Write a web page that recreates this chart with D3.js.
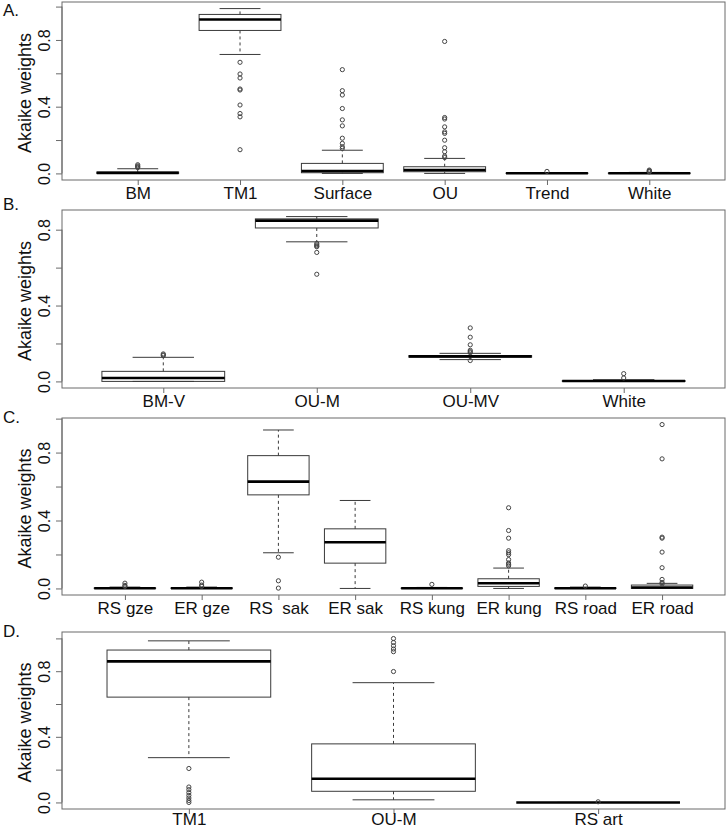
<!DOCTYPE html>
<html>
<head>
<meta charset="utf-8">
<script src="https://cdn.jsdelivr.net/npm/d3@7/dist/d3.min.js"></script>
<style>
  html, body { margin: 0; padding: 0; background: #fff; }
  svg { display: block; }
  text { font-family: "Liberation Sans", Arial, sans-serif; fill: #111; }
</style>
</head>
<body>
<svg id="chart" width="728" height="830"></svg>
<script>
// ---------- Panel A ----------
const catsA = ["BM", "TM1", "Surface", "OU", "Trend", "White"];
const loA  = [0, 0.713, 0, 0, 0, 0];
const q1A  = [0, 0.857, 0.004, 0.01, 0, 0];
const medA = [0.003, 0.923, 0.014, 0.02, 0.001, 0.001];
const q3A  = [0.008, 0.953, 0.06, 0.04, 0.002, 0.002];
const hiA  = [0.028, 0.988, 0.139, 0.09, 0.005, 0.006];
const outA = [
  [0.035, 0.04, 0.045, 0.052],
  [0.666, 0.596, 0.572, 0.506, 0.50, 0.41, 0.359, 0.339, 0.142],
  [0.622, 0.496, 0.47, 0.389, 0.321, 0.285, 0.211, 0.18, 0.16, 0.15],
  [0.791, 0.335, 0.326, 0.279, 0.249, 0.24, 0.199, 0.154, 0.13, 0.104, 0.095],
  [0.012],
  [0.009, 0.012, 0.016, 0.02]
];

// ---------- Panel B ----------
const catsB = ["BM-V", "OU-M", "OU-MV", "White"];
const loB  = [0, 0.736, 0.115, 0];
const q1B  = [0, 0.809, 0.128, 0];
const medB = [0.018, 0.848, 0.132, 0.002];
const q3B  = [0.053, 0.857, 0.136, 0.004];
const hiB  = [0.127, 0.869, 0.148, 0.009];
const outB = [
  [0.136, 0.14, 0.145],
  [0.727, 0.72, 0.714, 0.71, 0.68, 0.565],
  [0.282, 0.233, 0.193, 0.164, 0.157, 0.151, 0.11],
  [0.018, 0.041]
];

// ---------- Panel C ----------
const catsC = ["RS gze", "ER gze", "RS\u00a0 sak", "ER sak", "RS kung", "ER kung", "RS road", "ER road"];
const loC  = [0, 0, 0.21, 0, 0, 0, 0, 0];
const q1C  = [0, 0, 0.551, 0.149, 0, 0.012, 0, 0];
const medC = [0.001, 0.001, 0.629, 0.272, 0.001, 0.031, 0.001, 0.006];
const q3C  = [0.003, 0.003, 0.782, 0.351, 0.002, 0.057, 0.003, 0.02];
const hiC  = [0.008, 0.008, 0.933, 0.518, 0.006, 0.12, 0.008, 0.03];
const outC = [
  [0.012, 0.018, 0.031],
  [0.012, 0.02, 0.037],
  [0.184, 0.045, 0.002],
  [],
  [0.024],
  [0.475, 0.341, 0.296, 0.222, 0.21, 0.199, 0.17, 0.15, 0.142, 0.133],
  [0.014],
  [0.965, 0.763, 0.302, 0.296, 0.214, 0.122, 0.053, 0.035, 0.027]
];

// ---------- Panel D ----------
const catsD = ["TM1", "OU-M", "RS art"];
const loD  = [0.273, 0.016, 0];
const q1D  = [0.642, 0.068, 0];
const medD = [0.86, 0.144, 0];
const q3D  = [0.929, 0.357, 0];
const hiD  = [0.985, 0.73, 0];
const outD = [
  [0.207, 0.094, 0.078, 0.06, 0.043, 0.027, 0.012, 0.0],
  [0.798, 0.919, 0.935, 0.955, 0.975, 0.999],
  [0.004]
];

const yTicks = [0, 0.2, 0.4, 0.6, 0.8, 1.0];
const panelLabels = ["A.", "B.", "C.", "D."];
const yTitle = "Akaike weights";

const panels = [
  {label: panelLabels[0], cats: catsA, lo: loA, q1: q1A, med: medA, q3: q3A, hi: hiA, out: outA, rect: [62, 2, 725, 180], lab: 16, xl: 19},
  {label: panelLabels[1], cats: catsB, lo: loB, q1: q1B, med: medB, q3: q3B, hi: hiB, out: outB, rect: [62, 210, 725, 388], lab: 210, xl: 19},
  {label: panelLabels[2], cats: catsC, lo: loC, q1: q1C, med: medC, q3: q3C, hi: hiC, out: outC, rect: [62, 418, 725, 595], lab: 423, xl: 19},
  {label: panelLabels[3], cats: catsD, lo: loD, q1: q1D, med: medD, q3: q3D, hi: hiD, out: outD, rect: [62, 632, 725, 809], lab: 637, xl: 16}
];

const svg = d3.select("#chart");
const lineCol = "#3a3a3a";
const frameCol = "#6a6a6a";

panels.forEach(p => {
  const [x0, y0, x1, y1] = p.rect;
  const n = p.cats.length;
  const all = [].concat(p.lo, p.hi, ...p.out);
  const mn = d3.min(all), mx = d3.max(all);
  const ext = (mx - mn) * 0.04;
  const y = d3.scaleLinear().domain([mn - ext, mx + ext]).range([y1, y0]);
  const xe = n * 0.04;
  const x = d3.scaleLinear().domain([0.5 - xe, n + 0.5 + xe]).range([x0, x1]);
  const hw = x(1.4) - x(1);   // half box width (boxwex 0.8)
  const cw = x(1.2) - x(1);   // half staple width

  const g = svg.append("g");

  // panel label
  g.append("text").attr("x", 3).attr("y", p.lab)
    .attr("font-size", 17).text(p.label);

  const idx = d3.range(n);
  const boxes = g.selectAll("g.box").data(idx).join("g").attr("class", "box");

  // whiskers (dashed)
  boxes.append("line")
    .attr("x1", i => x(i + 1)).attr("x2", i => x(i + 1))
    .attr("y1", i => y(p.q3[i])).attr("y2", i => y(p.hi[i]))
    .attr("stroke", lineCol).attr("stroke-width", 1).attr("stroke-dasharray", "3,3");
  boxes.append("line")
    .attr("x1", i => x(i + 1)).attr("x2", i => x(i + 1))
    .attr("y1", i => y(p.q1[i])).attr("y2", i => y(p.lo[i]))
    .attr("stroke", lineCol).attr("stroke-width", 1).attr("stroke-dasharray", "3,3");
  // staples
  boxes.append("line")
    .attr("x1", i => x(i + 1) - cw).attr("x2", i => x(i + 1) + cw)
    .attr("y1", i => y(p.hi[i])).attr("y2", i => y(p.hi[i]))
    .attr("stroke", lineCol).attr("stroke-width", 1);
  boxes.append("line")
    .attr("x1", i => x(i + 1) - cw).attr("x2", i => x(i + 1) + cw)
    .attr("y1", i => y(p.lo[i])).attr("y2", i => y(p.lo[i]))
    .attr("stroke", lineCol).attr("stroke-width", 1);
  // box
  boxes.append("rect")
    .attr("x", i => x(i + 1) - hw).attr("width", 2 * hw)
    .attr("y", i => y(p.q3[i])).attr("height", i => Math.max(0, y(p.q1[i]) - y(p.q3[i])))
    .attr("fill", "none").attr("stroke", lineCol).attr("stroke-width", 1);
  // median
  boxes.append("line")
    .attr("x1", i => x(i + 1) - hw).attr("x2", i => x(i + 1) + hw)
    .attr("y1", i => y(p.med[i])).attr("y2", i => y(p.med[i]))
    .attr("stroke", "#000").attr("stroke-width", 2.6);
  // outliers
  boxes.each(function(i) {
    d3.select(this).selectAll("circle").data(p.out[i]).join("circle")
      .attr("cx", x(i + 1)).attr("cy", d => y(d)).attr("r", 2.1)
      .attr("fill", "none").attr("stroke", "#444").attr("stroke-width", 1);
  });

  // frame
  g.append("rect").attr("x", x0).attr("y", y0)
    .attr("width", x1 - x0).attr("height", y1 - y0)
    .attr("fill", "none").attr("stroke", frameCol).attr("stroke-width", 1);

  // y axis
  const ticks = yTicks.filter(t => t >= y.domain()[0] && t <= y.domain()[1]);
  const yAxis = d3.axisLeft(y).tickValues(ticks).tickSize(6)
    .tickFormat((d, i) => (i % 2 === 0 ? d.toFixed(1) : ""));
  const ya = g.append("g").attr("transform", `translate(${x0},0)`).call(yAxis);
  ya.select(".domain").remove();
  ya.selectAll(".tick line").attr("stroke", frameCol);
  ya.selectAll(".tick text")
    .attr("transform", "rotate(-90)")
    .attr("x", 0).attr("y", -12).attr("dy", 0)
    .attr("text-anchor", "middle")
    .attr("font-size", 16).attr("font-family", "Liberation Sans, Arial, sans-serif")
    .attr("fill", "#111");
  ya.append("line").attr("x1", 0).attr("x2", 0)
    .attr("y1", y(ticks[0])).attr("y2", y(ticks[ticks.length - 1]))
    .attr("stroke", frameCol);

  // x axis
  const xAxis = d3.axisBottom(x).tickValues(d3.range(1, n + 1)).tickSize(5)
    .tickFormat(d => p.cats[d - 1]);
  const xa = g.append("g").attr("transform", `translate(0,${y1})`).call(xAxis);
  xa.select(".domain").remove();
  xa.selectAll(".tick line").attr("stroke", frameCol);
  xa.selectAll(".tick text")
    .attr("y", p.xl).attr("dy", 0)
    .attr("font-size", 17).attr("font-family", "Liberation Sans, Arial, sans-serif")
    .attr("fill", "#111").style("white-space", "pre");

  // y title
  g.append("text")
    .attr("transform", `translate(31,${(y0 + y1) / 2 + 2}) rotate(-90)`)
    .attr("text-anchor", "middle").attr("font-size", 18)
    .text(yTitle);
});
</script>
</body>
</html>
